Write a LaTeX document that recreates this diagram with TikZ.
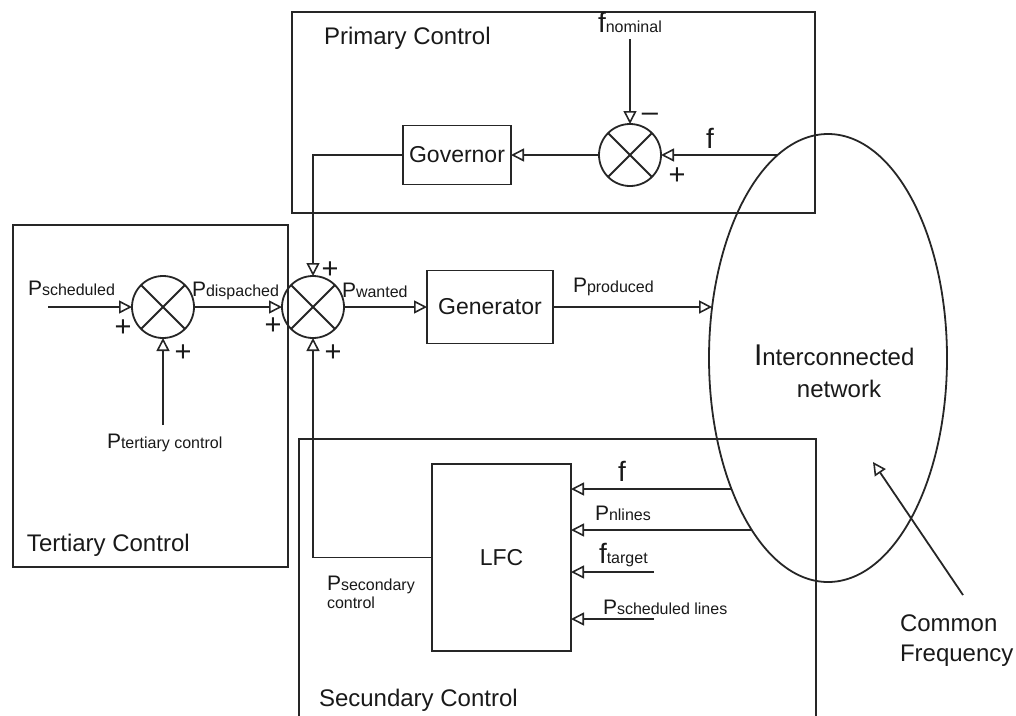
\documentclass[tikz,border=0pt]{standalone}
\usepackage{fontspec}
\setmainfont{Liberation Sans}
\usetikzlibrary{arrows.meta,shapes.geometric}
\newcommand\fs[1]{\fontsize{#1}{#1}\selectfont}
\newcommand\sig[2]{{\fs{21}#1}{\fs{16}#2}}
\begin{document}
\begin{tikzpicture}[x=1pt,y=-1pt,line width=1.8pt,draw=black!85,
  every node/.style={inner sep=0pt,outer sep=0pt,text=black!90},
  tip/.style={-{Triangle[open,length=13pt,width=13pt,line width=1.6pt]}},
  sumj/.style={circle,draw,minimum size=62pt},
  blk/.style={draw,rectangle,font=\fs{23}},
  big/.style={font=\fs{24}},
  sgn/.style={font=\fs{29}},
  lbl/.style={anchor=base west}]
\useasboundingbox (0,0) rectangle (1016,715);

% region boxes
\draw (292,12) rectangle (815,213);
\draw (13,225) rectangle (288,567);
\draw (299,716) -- (299,439) -- (816,439) -- (816,716);
\node[big,lbl] (tprim) at (324,44) {Primary Control};
\node[big,lbl] (tter) at (27,551) {Tertiary Control};
\node[big,lbl] (tsec) at (319,706) {Secundary Control};

% interconnected network
\node[ellipse,draw,minimum width=238pt,minimum height=448pt] (net) at (828,358) {};
\node[lbl] (net1) at (754,365) {{\fs{30}I}{\fs{24}nterconnected}};
\node[font=\fs{24},anchor=base] (net2) at (839,397) {network};

% summing junctions
\node[sumj] (sp) at (630,155) {};
\node[sumj] (s1) at (163,307) {};
\node[sumj] (s2) at (313,307) {};
\foreach \s in {sp,s1,s2}{
  \draw (\s.north east) -- (\s.south west) (\s.north west) -- (\s.south east);
}

% blocks
\node[blk,minimum width=108pt,minimum height=59pt] (gov) at (457,155) {Governor};
\node[blk,minimum width=126pt,minimum height=73pt] (gen) at (490,307) {Generator};
\node[blk,minimum width=139pt,minimum height=187pt] (lfc) at (501.5,557.5) {LFC};

% free ends
\coordinate (epf) at (777.7,155);
\coordinate (epp) at (712.1,307);
\coordinate (elf) at (731.5,489);
\coordinate (eln) at (751.8,530);
\coordinate (eft) at (654,572);
\coordinate (esl) at (654,619);
\coordinate (psin) at (48,307);
\coordinate (cfa) at (963,595);
\coordinate (cfb) at (873,462);

% labels
\node[lbl] (fnom) at (598,32) {{\fs{28}f}{\fs{16}nominal}};
\node[font=\fs{28},anchor=base] (fp) at (710,148) {f};
\node[lbl] (psch) at (28,295) {\sig{P}{scheduled}};
\node[lbl] (pdis) at (192,296) {\sig{P}{dispached}};
\node[lbl] (pwan) at (342,297) {\sig{P}{wanted}};
\node[lbl] (ppro) at (573,292) {\sig{P}{produced}};
\node[lbl] (pter) at (107,448) {\sig{P}{tertiary control}};
\node[font=\fs{28},anchor=base] (fs) at (622,481) {f};
\node[lbl] (pnl) at (595,520) {\sig{P}{nlines}};
\node[lbl] (ftg) at (599,563) {{\fs{28}f}{\fs{16}target}};
\node[lbl] (psl) at (603,614) {\sig{P}{scheduled lines}};
\node[lbl] (psec) at (327,590) {\sig{P}{secondary}};
\node[lbl,font=\fs{16}] (psec2) at (327,608) {control};
\node[lbl,font=\fs{24}] (cf1) at (900,631) {Common};
\node[lbl,font=\fs{24}] (cf2) at (900,661) {Frequency};

% signs
\node[sgn] (m1) at (123,328) {+};
\node[sgn] (m2) at (183,353) {+};
\node[sgn] (m3) at (273,326) {+};
\node[sgn] (m4) at (330,270) {+};
\node[sgn] (m5) at (333,353) {+};
\node[sgn] (m6) at (677,176) {+};
\node[sgn] (m7) at (650,117) {\textendash};

% connectors
\draw[tip] (sp.north |- 0,39) -- (sp.north);
\draw[tip] (epf) -- (sp.east);
\draw[tip] (sp.west) -- (gov.east);
\draw[tip] (gov.west) -| (s2.north);
\draw[tip] (psin) -- (s1.west);
\draw[tip] (s1.south |- 0,425) -- (s1.south);
\draw[tip] (s1.east) -- (s2.west);
\draw[tip] (s2.east) -- (gen.west);
\draw[tip] (gen.east) -- (epp);
\draw[tip] (lfc.west) -| (s2.south);
\draw[tip] (elf) -- (elf -| lfc.east);
\draw[tip] (eln) -- (eln -| lfc.east);
\draw[tip] (eft) -- (eft -| lfc.east);
\draw[tip] (esl) -- (esl -| lfc.east);
\draw[tip] (cfa) -- (cfb);
\end{tikzpicture}
\end{document}
